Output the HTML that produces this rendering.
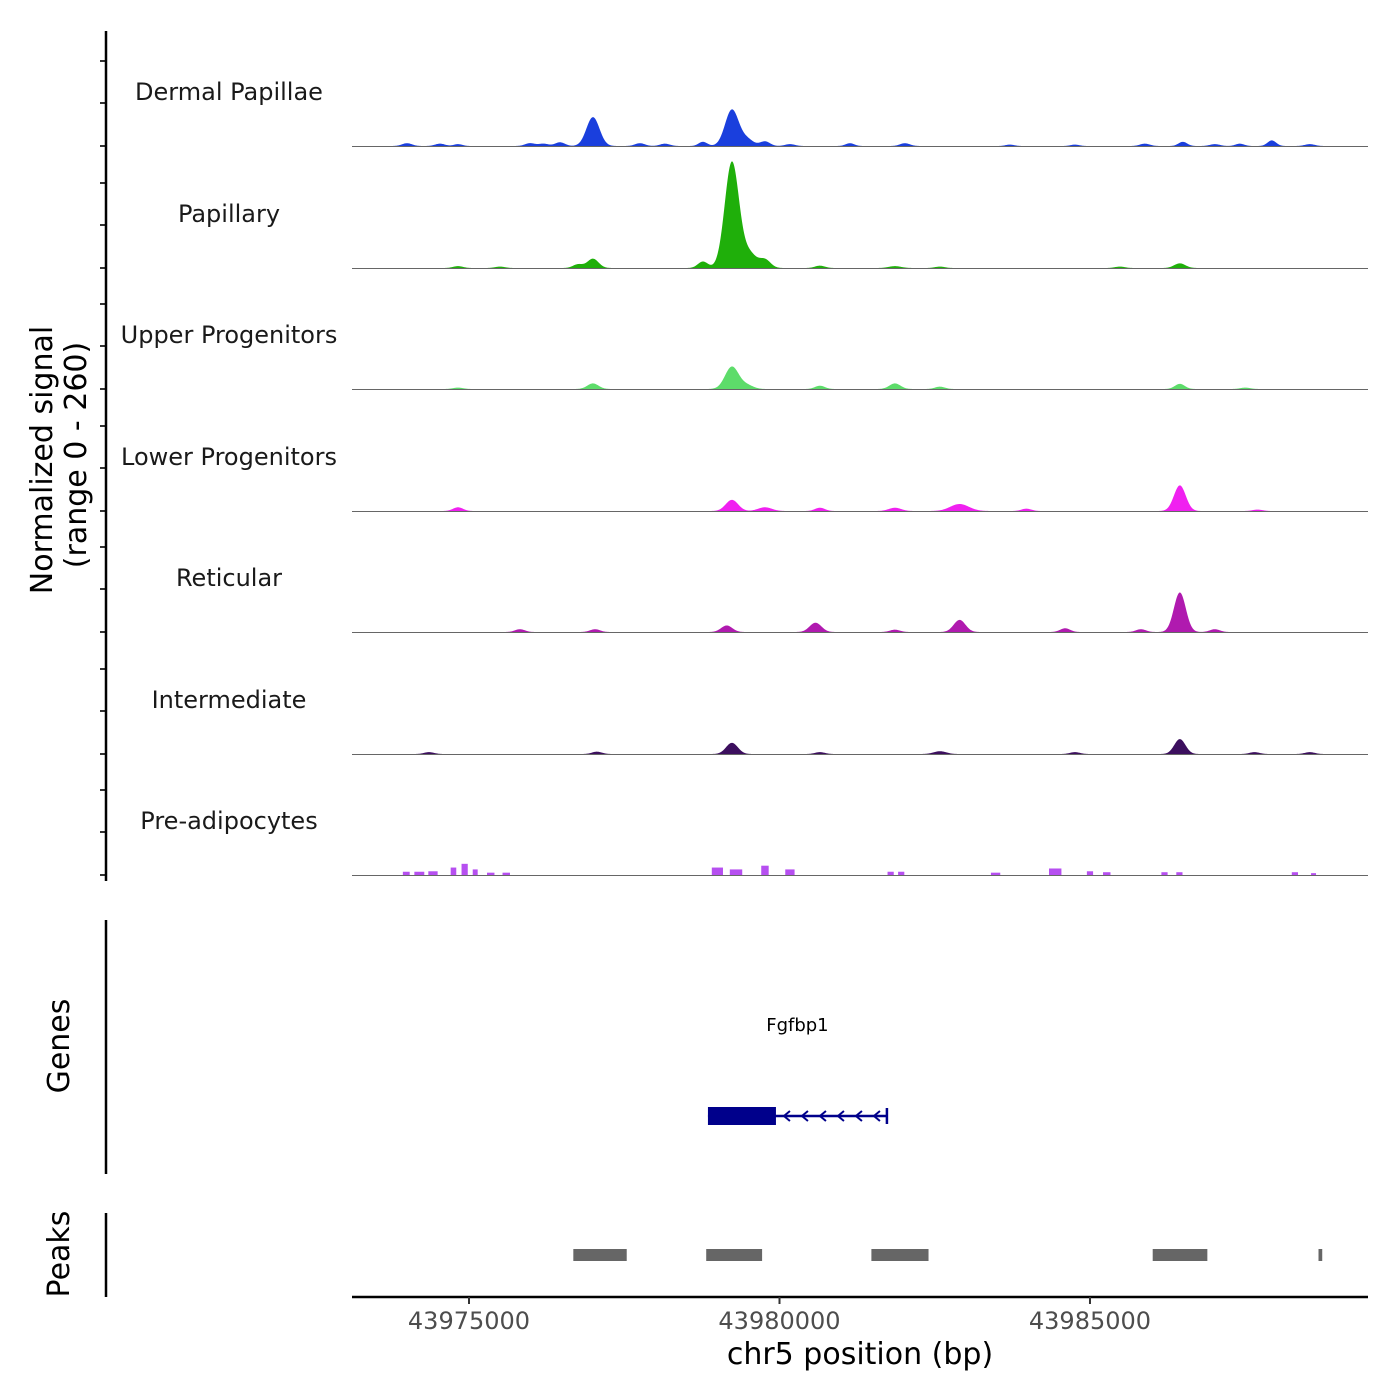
<!DOCTYPE html>
<html><head><meta charset="utf-8"><style>
html,body{margin:0;padding:0;background:#fff;}
svg{display:block;font-family:"DejaVu Sans","Liberation Sans",sans-serif;}
</style></head><body>
<svg id="chart" width="1400" height="1400" viewBox="0 0 1400 1400" xmlns="http://www.w3.org/2000/svg"></svg>
<script>
// ---- data ----
const trackNames = ["Dermal Papillae","Papillary","Upper Progenitors","Lower Progenitors","Reticular","Intermediate","Pre-adipocytes"];
const trackColors = ["#1a3fdd","#1faf0a","#5ddc6a","#f020f0","#b01aaf","#3c0f5e","#b64ff0"];
// peak centres (bp), heights (normalized signal), widths (bp)
const dpPos = [43974002,43974533,43974823,43975982,43976200,43976465,43976996,43977753,43978156,43978767,43979234,43979480,43979766,43980168,43981134,43982020,43983710,43984757,43985884,43986495,43987011,43987413,43987928,43988540];
const dpVal = [6,5,4,6,5,8,62,6,5,9,78,14,10,4,6,6,3,3,5,9,4,5,12,4];
const dpWid = [80,80,70,80,80,80,105,80,80,70,110,100,80,80,70,80,70,70,80,70,80,70,70,80];
const paPos = [43974823,43975499,43976755,43976996,43978767,43979234,43979520,43979766,43980651,43981859,43982583,43985481,43986447];
const paVal = [4,3,8,20,14,228,30,18,5,4,3,3,10];
const paWid = [80,80,80,90,80,115,110,90,80,100,80,80,90];
const upPos = [43974823,43976996,43979234,43979480,43980651,43981859,43982583,43986447,43987500];
const upVal = [3,12,48,8,7,12,5,11,3];
const upWid = [80,90,110,100,80,90,80,80,80];
const loPos = [43974823,43979234,43979766,43980651,43981859,43982900,43983976,43986447,43987700];
const loVal = [8,24,8,7,7,15,5,55,3];
const loWid = [80,100,110,80,100,150,80,95,80];
const rePos = [43975820,43977030,43979150,43980580,43981859,43982900,43984600,43985820,43986447,43987011];
const reVal = [6,6,14,20,5,26,8,6,85,6];
const reWid = [80,80,90,95,80,95,80,80,95,80];
const inPos = [43974357,43977060,43979234,43980651,43982583,43984757,43986447,43987650,43988540];
const inVal = [4,5,24,4,6,4,32,4,4];
const inWid = [80,80,95,80,100,80,90,80,80];
const prPos = [43973990,43974200,43974420,43974750,43974930,43975100,43975350,43975600,43979000,43979300,43979766,43980168,43981790,43981960,43983480,43984440,43985000,43985270,43986200,43986440,43988300,43988600];
const prVal = [7,7,8,16,24,12,5,5,16,12,20,12,7,7,5,14,8,6,6,6,6,4];
const prWid = [110,160,150,90,100,80,120,120,180,200,120,150,100,100,150,200,100,120,100,100,100,80];
const xTicks = [43975000,43980000,43985000];
const geneStart = 43978848, geneCdsEnd = 43979943, geneEnd = 43981730;
const peakStarts = [43976680,43978820,43981480,43986010,43988680];
const peakEnds   = [43977540,43979720,43982400,43986890,43988740];

// ---- scales ----
const X0 = 352, X1 = 1368, BP0 = 43973116, BP1 = 43989477;
const xs = bp => X0 + (bp - BP0) / (BP1 - BP0) * (X1 - X0);
const baselines = [146,268,389,511,632,754,875];
const yMax = 260, trackH = 121;
const ys = (v, b) => b - v / yMax * trackH;

const NS = "http://www.w3.org/2000/svg";
const svg = document.getElementById("chart");
function mk(tag, attrs, parent){ const e=document.createElementNS(NS,tag); for(const k in attrs) e.setAttribute(k,attrs[k]); (parent||svg).appendChild(e); return e; }

const allPos=[dpPos,paPos,upPos,loPos,rePos,inPos,prPos], allVal=[dpVal,paVal,upVal,loVal,reVal,inVal,prVal], allWid=[dpWid,paWid,upWid,loWid,reWid,inWid,prWid];

for (let t=0;t<7;t++){
  const b = baselines[t];
  const g = mk("g",{});
  
  
  const lab = mk("text",{x:229,y:b-46,"text-anchor":"middle","font-size":24,fill:"#1a1a1a"},g);
  lab.textContent = trackNames[t];
  
  
  const P=allPos[t],V=allVal[t],W=allWid[t];
  if (t===6){
    for(let i=0;i<P.length;i++){
      const r = mk("rect",{x:xs(P[i]-W[i]/2),y:ys(V[i],b),width:xs(P[i]+W[i]/2)-xs(P[i]-W[i]/2),height:b-ys(V[i],b),fill:trackColors[t]},g);
      
      
    }
  } else {
    let d = "M"+X0+","+b;
    for(let px=X0; px<=X1; px+=0.5){
      const bp = BP0 + (px-X0)/(X1-X0)*(BP1-BP0);
      let v=0;
      for(let i=0;i<P.length;i++){ const z=(bp-P[i])/W[i]; v+=V[i]*Math.exp(-0.5*z*z); }
      d += " L"+px.toFixed(1)+","+ys(v,b).toFixed(2);
    }
    d += " L"+X1+","+b+" Z";
    const p = mk("path",{d:d,fill:trackColors[t]},g);
    
    
  }
  const bl = mk("line",{x1:X0,x2:X1,y1:b+0.5,y2:b+0.5,stroke:"#666","stroke-width":1},g);
  
  
  [0,43,85].forEach(o=>{ mk("line",{x1:100,x2:106,y1:b-o,y2:b-o,stroke:"#333","stroke-width":2},g); });
}
</script>
<script>
// static axes & annotations
(function(){
const NS="http://www.w3.org/2000/svg", svg=document.getElementById("chart");
function mk(tag, attrs){ const e=document.createElementNS(NS,tag); for(const k in attrs) e.setAttribute(k,attrs[k]); svg.appendChild(e); return e; }
let e;
e=mk("line",{x1:106,x2:106,y1:31,y2:881,stroke:"#000","stroke-width":2.5});
 
e=mk("text",{transform:"translate(52,460) rotate(-90)","text-anchor":"middle","font-size":30,fill:"#000"}); e.textContent="Normalized signal";
 
e=mk("text",{transform:"translate(86,455) rotate(-90)","text-anchor":"middle","font-size":30,fill:"#000"}); e.textContent="(range 0 - 260)";
 
e=mk("line",{x1:106,x2:106,y1:920,y2:1174,stroke:"#000","stroke-width":2.5});
 
e=mk("text",{transform:"translate(69,1046) rotate(-90)","text-anchor":"middle","font-size":30,fill:"#000"}); e.textContent="Genes";
 
e=mk("line",{x1:106,x2:106,y1:1213,y2:1297,stroke:"#000","stroke-width":2.5});
 
e=mk("text",{transform:"translate(69,1254) rotate(-90)","text-anchor":"middle","font-size":30,fill:"#000"}); e.textContent="Peaks";
 
// gene
const gy=1116;
e=mk("text",{x:xs((geneStart+geneEnd)/2),y:1031,"text-anchor":"middle","font-size":18,fill:"#000"}); e.textContent="Fgfbp1";
 
e=mk("line",{x1:xs(geneStart),x2:xs(geneEnd),y1:gy,y2:gy,stroke:"#00008b","stroke-width":2.5});
 
e=mk("rect",{x:xs(geneStart),y:gy-9,width:xs(geneCdsEnd)-xs(geneStart),height:18,fill:"#00008b"});
 
e=mk("line",{x1:xs(geneEnd),x2:xs(geneEnd),y1:gy-8,y2:gy+8,stroke:"#00008b","stroke-width":2.5});
for(let ax=xs(geneCdsEnd)+8; ax<xs(geneEnd)-4; ax+=18){
  e=mk("polyline",{points:(ax+6)+","+(gy-5)+" "+ax+","+gy+" "+(ax+6)+","+(gy+5),fill:"none",stroke:"#00008b","stroke-width":2});
   
}
for(let i=0;i<peakStarts.length;i++){
  e=mk("rect",{x:xs(peakStarts[i]),y:1249,width:xs(peakEnds[i])-xs(peakStarts[i]),height:12,fill:"#666"});
   
}
e=mk("line",{x1:352,x2:1368,y1:1297,y2:1297,stroke:"#000","stroke-width":2.5});
 
xTicks.forEach(t=>{
  mk("line",{x1:xs(t),x2:xs(t),y1:1297,y2:1304,stroke:"#333","stroke-width":2});
  const l=mk("text",{x:xs(t),y:1329,"text-anchor":"middle","font-size":24,fill:"#4d4d4d"}); l.textContent=t;
   
});
e=mk("text",{x:860,y:1364,"text-anchor":"middle","font-size":30,fill:"#000"}); e.textContent="chr5 position (bp)";
 
})();
</script>
</body></html>
